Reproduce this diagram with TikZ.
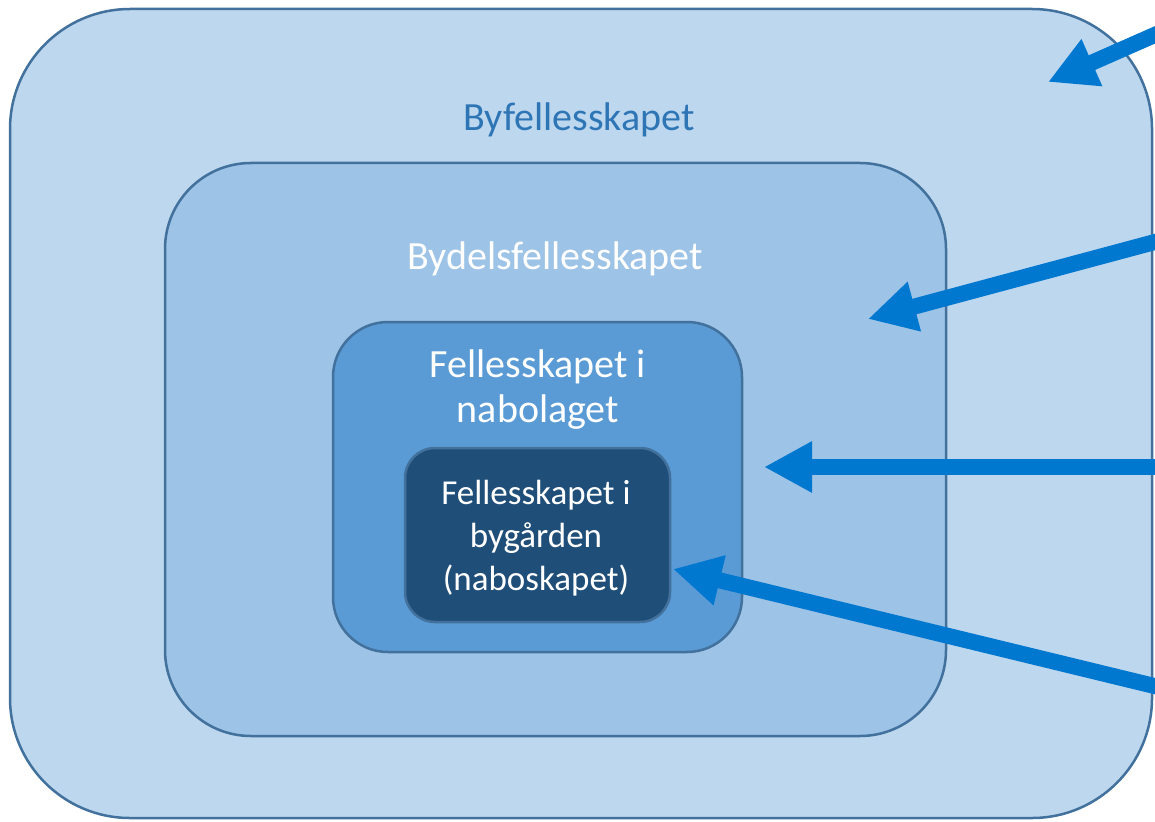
\documentclass[tikz,border=0pt]{standalone}
\usepackage{fontspec}
\setmainfont{Carlito}
\usetikzlibrary{arrows.meta}

\definecolor{byFill}{HTML}{BDD7EE}
\definecolor{bydelFill}{HTML}{9DC3E6}
\definecolor{naboFill}{HTML}{5B9BD5}
\definecolor{gardFill}{HTML}{1F4E79}
\definecolor{zoneLine}{HTML}{41719C}
\definecolor{byText}{HTML}{2E75B6}
\definecolor{arrowBlue}{HTML}{0078D0}

\begin{document}
\begin{tikzpicture}[
    x=1pt, y=-1pt,
    zone/.style={rectangle, draw=zoneLine, line width=2.5pt, inner sep=0pt},
    title/.style={font=\fontsize{40}{45}\selectfont, text=white, align=center, anchor=base, inner sep=0pt},
    pointer/.style={-{Triangle[length=48pt, width=48pt]}, line width=16pt, arrowBlue},
]
\useasboundingbox (0,0) rectangle (1155,821);
\clip (0,0) rectangle (1155,821);

% ====== Nested zones ======
\node[zone, fill=byFill, minimum width=1142pt, minimum height=809pt, rounded corners=120pt] (by) at (581,413.5) {};
\node[zone, fill=bydelFill, minimum width=781pt, minimum height=573pt, rounded corners=86pt] (bydel) at (555.5,449.5) {};
\node[zone, fill=naboFill, minimum width=409pt, minimum height=330pt, rounded corners=55pt] (nabo) at (537.5,487) {};
\node[zone, fill=gardFill, minimum width=265pt, minimum height=174pt, rounded corners=30pt] (gard) at (537.5,535) {};

% ====== Titles (base = last line) ======
\node[title, text=byText] (byTitle) at (579,131) {Byfellesskapet};
\node[title] (bydelTitle) at (555,269) {Bydelsfellesskapet};
\node[title] (naboTitle) at (538,422) {Fellesskapet i\\nabolaget};
\node[title, font=\fontsize{35}{43}\selectfont] (gardTitle) at (536,590) {Fellesskapet i\\bygården\\(naboskapet)};

% ====== Pointers from the right ======
\coordinate (byFrom) at (1175,26);
\coordinate (byTip) at (1048,82);
\coordinate (bydelFrom) at (1175,236.6);
\coordinate (bydelTip) at (868,319);
\coordinate (naboFrom) at (1175,467);
\coordinate (naboTip) at (764,467);
\coordinate (gardFrom) at (1175,691);
\coordinate (gardTip) at (673,569);

\draw[pointer] (byFrom) -- (byTip);
\draw[pointer] (bydelFrom) -- (bydelTip);
\draw[pointer] (naboFrom) -- (naboTip);
\draw[pointer] (gardFrom) -- (gardTip);

\end{tikzpicture}
\end{document}
